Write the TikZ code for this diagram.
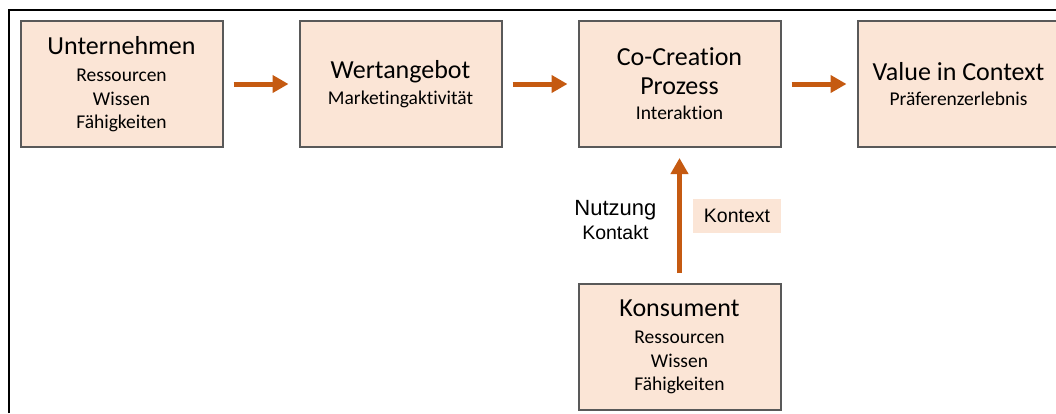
\documentclass[tikz,border=0pt]{standalone}
\usepackage{fontspec}
\setmainfont{Carlito}[Ligatures=NoCommon]
\newfontfamily\labelfont{Liberation Sans}
\usetikzlibrary{arrows.meta, positioning}

\definecolor{boxfill}{HTML}{FBE5D6}
\definecolor{boxline}{HTML}{595959}
\definecolor{flowcol}{HTML}{C55A11}
\newcommand{\stagetitle}[1]{{\fontsize{13}{14.5}\selectfont #1}}

\begin{document}
\begin{tikzpicture}[
  x=1pt, y=1pt,
  node distance=37.5pt,
  stage/.style={draw=boxline, line width=1pt, fill=boxfill,
    minimum width=101pt, minimum height=63pt, inner sep=0pt,
    align=center, font=\fontsize{9.75}{11.75}\selectfont},
  flow/.style={draw=flowcol, line width=2.5pt,
    -{Triangle[length=8pt,width=8.5pt]}, shorten <=5pt, shorten >=5pt},
  ctxbox/.style={fill=boxfill, minimum height=17pt, inner xsep=5.5pt,
    font=\labelfont\fontsize{9.75}{11.75}\selectfont}]

  \useasboundingbox (0,0) rectangle (528,-206.5);
  \draw[line width=1pt] (4.5,-206.5) -- (4.5,-5) -- (528,-5);

  \node[stage] (unt) at (60.75,-42)
    {\stagetitle{Unternehmen}\\[2pt] Ressourcen\\ Wissen\\ Fähigkeiten};
  \node[stage, right=of unt] (wert)
    {\stagetitle{Wertangebot}\\[1pt] Marketingaktivität};
  \node[stage, right=of wert] (co)
    {\stagetitle{Co-Creation}\\[2.5pt] \stagetitle{Prozess}\\[1pt] Interaktion};
  \node[stage, right=of co] (val)
    {\stagetitle{Value in Context}\\[1pt] Präferenzerlebnis};
  \node[stage, below=67.5pt of co] (kons)
    {\stagetitle{Konsument}\\[2pt] Ressourcen\\ Wissen\\ Fähigkeiten};

  \draw[flow] (unt) -- (wert);
  \draw[flow] (wert) -- (co);
  \draw[flow] (co) -- (val);
  \draw[flow] (kons) -- coordinate[midway] (mid)
    node[midway, left=7pt, yshift=-2.5pt, align=center, font=\labelfont]
      {{\fontsize{11}{12}\selectfont Nutzung}\\
       {\fontsize{9.75}{11}\selectfont Kontakt}} (co);

  \node[ctxbox, anchor=east] (ctx) at (mid -| co.east) {Kontext};
\end{tikzpicture}
\end{document}
